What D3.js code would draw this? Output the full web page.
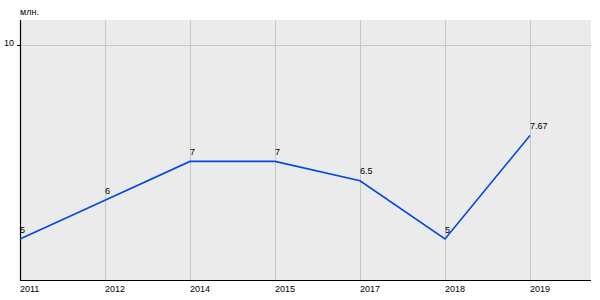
<!DOCTYPE html>
<html><head><meta charset="utf-8">
<script src="https://cdn.jsdelivr.net/npm/d3@7"></script>
<style>body{margin:0;background:#fff;} text{font-family:"Liberation Sans",Arial,sans-serif;}</style>
</head><body>
<svg id="c" width="600" height="300"></svg>
<script>
const categories = ["2011","2012","2014","2015","2017","2018","2019"];
const values = [5, 6, 7, 7, 6.5, 5, 7.67];
const valueLabels = ["5","6","7","7","6.5","5","7.67"];
const yTicks = [10];
const unitLabel = "млн.";

const svg = d3.select("#c");
const L = 20, R = 591, T = 20, B = 280;
const FS = 9;
const x = d3.scalePoint().domain(categories).range([L, L + 85*6]);
const y = d3.scaleLinear().domain([5, 10]).range([239, 45]);

svg.append("rect").attr("x", L).attr("y", T).attr("width", R - L).attr("height", B - T).attr("fill", "#ebebeb");

// grid
svg.append("g").selectAll("line").data(categories).join("line")
  .attr("x1", d => x(d) + 0.5).attr("x2", d => x(d) + 0.5)
  .attr("y1", T).attr("y2", B).attr("stroke", "#c6c6c6").attr("stroke-width", 1);
svg.append("g").selectAll("line").data(yTicks).join("line")
  .attr("x1", L).attr("x2", R).attr("y1", d => Math.round(y(d)) + 0.5).attr("y2", d => Math.round(y(d)) + 0.5)
  .attr("stroke", "#c6c6c6");

// axes
svg.append("line").attr("x1", L + 0.5).attr("x2", L + 0.5).attr("y1", T).attr("y2", B + 1).attr("stroke", "#000").attr("stroke-width", 1.2);
svg.append("line").attr("x1", L).attr("x2", R).attr("y1", B + 0.5).attr("y2", B + 0.5).attr("stroke", "#000").attr("stroke-width", 1.2);
svg.append("g").selectAll("line").data(yTicks).join("line")
  .attr("x1", L - 3).attr("x2", L).attr("y1", d => Math.round(y(d)) + 0.5).attr("y2", d => Math.round(y(d)) + 0.5).attr("stroke", "#000");
svg.append("g").selectAll("text").data(yTicks).join("text")
  .attr("x", L - 6).attr("y", d => y(d) + 1).attr("text-anchor", "end").attr("font-size", FS).attr("fill", "#000").text(d => d);
svg.append("text").attr("x", L).attr("y", 15).attr("font-size", FS).attr("fill", "#000").text(unitLabel);

// x labels
svg.append("g").selectAll("text").data(categories).join("text")
  .attr("x", d => x(d)).attr("y", 292).attr("font-size", FS).attr("fill", "#000").text(d => d);

// line
const data = categories.map((c, i) => ({c, v: values[i], l: valueLabels[i]}));
svg.append("path").datum(data)
  .attr("d", d3.line().x(d => x(d.c)).y(d => y(d.v)))
  .attr("fill", "none").attr("stroke", "#0049e6").attr("stroke-width", 1.6);

svg.append("g").selectAll("text").data(data).join("text")
  .attr("x", d => x(d.c)).attr("y", d => y(d.v) - 6.5).attr("font-size", FS).attr("fill", "#000").text(d => d.l);
</script>
</body></html>
